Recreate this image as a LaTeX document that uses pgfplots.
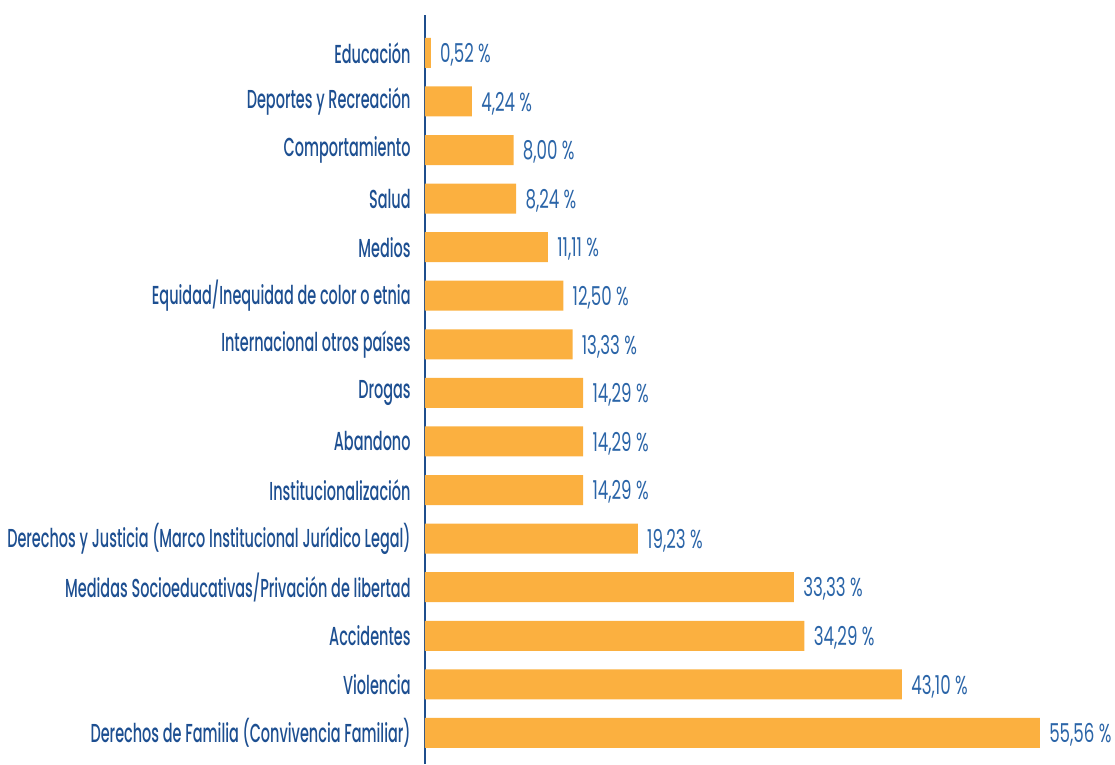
\documentclass[border=0pt]{standalone}
\usepackage{pgfplots}
\pgfplotsset{compat=1.18}
\usepackage{fontspec}
\setmainfont{Poppins}[FakeStretch=0.64]
\newfontfamily\catfont{Poppins Medium}[FakeStretch=0.556]
\definecolor{barc}{HTML}{FBB040}
\definecolor{labc}{HTML}{1D4F91}
\definecolor{valc}{HTML}{2B65A8}
\definecolor{axc}{HTML}{1F4E8C}
\begin{document}
\begin{tikzpicture}
\begin{axis}[
  scale only axis,
  width=332pt, height=374.5pt,
  xmin=0, xmax=60,
  ymin=-0.64, ymax=14.78,
  xbar, bar width=15pt,
  hide x axis,
  axis y line*=left,
  y axis line style={axc, line width=1.25pt, -},
  ytick={0,...,14},
  major tick length=0pt,
  yticklabels={
    {Derechos de Familia (Convivencia Familiar)},
    {Violencia},
    {Accidentes},
    {Medidas Socioeducativas/Privación de libertad},
    {Derechos y Justicia (Marco Institucional Jurídico Legal)},
    {Institucionalización},
    {Abandono},
    {Drogas},
    {Internacional otros países},
    {Equidad/Inequidad de color o etnia},
    {Medios},
    {Salud},
    {Comportamiento},
    {Deportes y Recreación},
    {Educación}},
  yticklabel style={text=labc, font=\catfont\fontsize{13}{15}\selectfont, anchor=east, inner sep=0pt, xshift=-7pt},
  nodes near coords={\pgfmathprintnumber{\pgfplotspointmeta}\,\%},
  nodes near coords style={text=valc, font=\fontsize{13}{15}\selectfont, anchor=west, inner sep=0pt, xshift=4.5pt, yshift=-1pt},
  /pgf/number format/.cd, fixed, fixed zerofill, precision=2, use comma, assume math mode=true,
]
\addplot[fill=barc, draw=none] coordinates {
  (55.56,0) (43.10,1) (34.29,2) (33.33,3) (19.23,4) (14.29,5) (14.29,6) (14.29,7)
  (13.33,8) (12.50,9) (11.11,10) (8.24,11) (8.00,12) (4.24,13) (0.52,14)
};
\end{axis}
\pgfresetboundingbox
\path[use as bounding box] ([xshift=-212.5pt]current axis.south west) rectangle ([xshift=13pt, yshift=7.5pt]current axis.north east);
\end{tikzpicture}
\end{document}
